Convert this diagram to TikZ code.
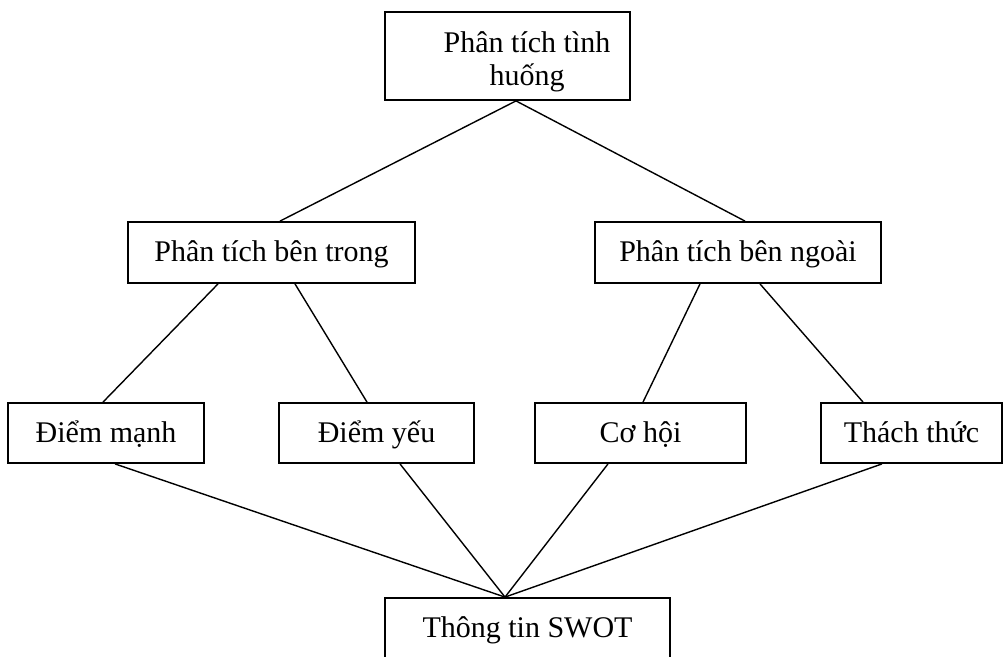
\documentclass[tikz,border=0pt]{standalone}
\usepackage{fontspec}
\setmainfont{Liberation Serif}
\begin{document}
\begin{tikzpicture}[x=1pt,y=-1pt,
  box/.style={draw=black, line width=1.8pt, rectangle, inner sep=0pt, text height=23pt, text depth=5pt, font=\fontsize{30}{33}\selectfont},
  conn/.style={draw=black, line width=1.4pt}]
\useasboundingbox (0,0) rectangle (1004,656);
\clip (0,0) rectangle (1004,656);
\node[box, text height=, text depth=, minimum width=245pt, minimum height=88pt,
  label={[font=\fontsize{30}{33}\selectfont, align=center, xshift=19.5pt, yshift=-6pt]center:Phân tích tình\\huống}] (top) at (507.5,56) {};
\node[box, minimum width=287pt, minimum height=61pt] (bl) at (271.5,252.5) {Phân tích bên trong};
\node[box, minimum width=286pt, minimum height=61pt] (br) at (738,252.5) {Phân tích bên ngoài};
\node[box, minimum width=196pt, minimum height=60pt] (s) at (106,433) {Điểm mạnh};
\node[box, minimum width=195pt, minimum height=60pt] (w) at (376.5,433) {Điểm yếu};
\node[box, minimum width=211pt, minimum height=60pt] (o) at (640.5,433) {Cơ hội};
\node[box, minimum width=181pt, minimum height=60pt] (t) at (911.5,433) {Thách thức};
\node[box, minimum width=285pt, minimum height=61pt] (swot) at (527.5,628.5) {Thông tin SWOT};
% connectors
\draw[conn] ([xshift=8.5pt]top.south) -- ([xshift=8.5pt]bl.north);
\draw[conn] ([xshift=8.5pt]top.south) -- ([xshift=7pt]br.north);
\draw[conn] ([xshift=-53.5pt]bl.south) -- ([xshift=-3pt]s.north);
\draw[conn] ([xshift=23.5pt]bl.south) -- ([xshift=-9.5pt]w.north);
\draw[conn] ([xshift=-38pt]br.south) -- ([xshift=2.5pt]o.north);
\draw[conn] ([xshift=22pt]br.south) -- ([xshift=-48.5pt]t.north);
\draw[conn] ([xshift=9pt]s.south) -- ([xshift=-22.5pt]swot.north);
\draw[conn] ([xshift=23.5pt]w.south) -- ([xshift=-22.5pt]swot.north);
\draw[conn] ([xshift=-32.5pt]o.south) -- ([xshift=-22.5pt]swot.north);
\draw[conn] ([xshift=-29.5pt]t.south) -- ([xshift=-22.5pt]swot.north);
\end{tikzpicture}
\end{document}
